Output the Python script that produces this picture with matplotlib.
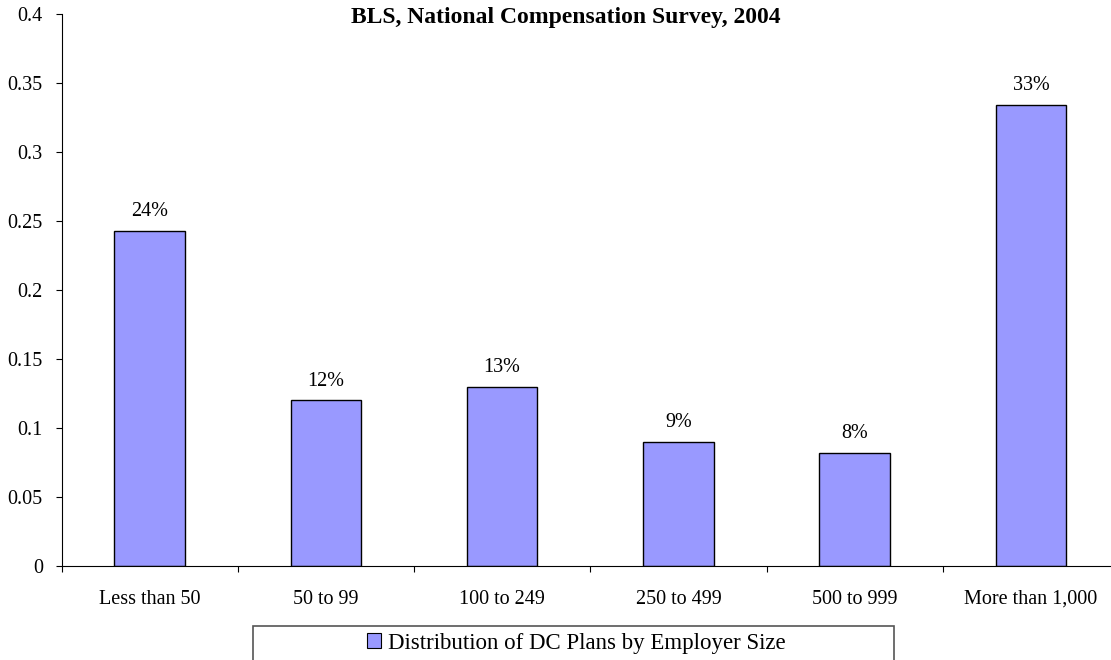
import matplotlib.pyplot as plt
from matplotlib.patches import Patch, Rectangle

categories = ['Less than 50', '50 to 99', '100 to 249', '250 to 499', '500 to 999', 'More than 1,000']
shares = [0.243, 0.12, 0.13, 0.09, 0.082, 0.334]
labels = ['24%', '12%', '13%', '9%', '8%', '33%']
yticks = [0, 0.05, 0.1, 0.15, 0.2, 0.25, 0.3, 0.35, 0.4]
yticklabels = ['0', '0.05', '0.1', '0.15', '0.2', '0.25', '0.3', '0.35', '0.4']

W, H = 1111, 660
plt.rcParams['font.family'] = ['Liberation Serif', 'DejaVu Serif']

fig = plt.figure(figsize=(W / 100, H / 100), dpi=100)
ax = fig.add_axes([61.5 / W, 1 - 566 / H, 1057.5 / W, 552 / H])

x = range(len(categories))
bars = ax.bar(x, shares, width=0.4, color='#9999FF', edgecolor='black', linewidth=1)
for b, lab in zip(bars, labels):
    ax.annotate(lab, (b.get_x() + b.get_width() / 2, b.get_height()),
                xytext=(0, 7), textcoords='offset points',
                ha='center', va='bottom', fontsize=14.5)

ax.set_xlim(-0.5, len(categories) - 0.5)
ax.set_ylim(0, 0.4)

# boundaries get the tick marks, centres get the labels
ax.set_xticks([i - 0.5 for i in range(len(categories) + 1)])
ax.set_xticklabels([])
ax.set_xticks(list(x), minor=True)
ax.set_xticklabels(categories, minor=True, fontsize=14.5)
ax.tick_params(axis='x', which='major', direction='out', length=4.5, width=0.8)
ax.tick_params(axis='x', which='minor', length=0, pad=17)

ax.set_yticks(yticks)
ax.set_yticklabels(yticklabels, fontsize=14.5)
ax.tick_params(axis='y', direction='out', length=4.5, width=0.8, pad=9)

for side in ['top', 'right']:
    ax.spines[side].set_visible(False)
for side in ['left', 'bottom']:
    ax.spines[side].set_linewidth(0.8)

fig.text(566 / W, 1 - 17.5 / H, 'BLS, National Compensation Survey, 2004',
         ha='center', va='center', fontsize=17, fontweight='bold')

# legend box (runs off the bottom of the figure)
fig.patches.append(Rectangle((253 / W, -40 / H), 641 / W, (40 + 660 - 626) / H,
                             transform=fig.transFigure, fill=False,
                             edgecolor='#555555', linewidth=1.2))
fig.legend(handles=[Patch(facecolor='#9999FF', edgecolor='black', linewidth=0.8,
                          label='Distribution of DC Plans by Employer Size')],
           loc='center', bbox_to_anchor=(576 / W, 1 - 643 / H), frameon=False,
           fontsize=16.5, handlelength=0.6, handleheight=0.6, handletextpad=0.3)

fig.savefig('out.png', dpi=100)
